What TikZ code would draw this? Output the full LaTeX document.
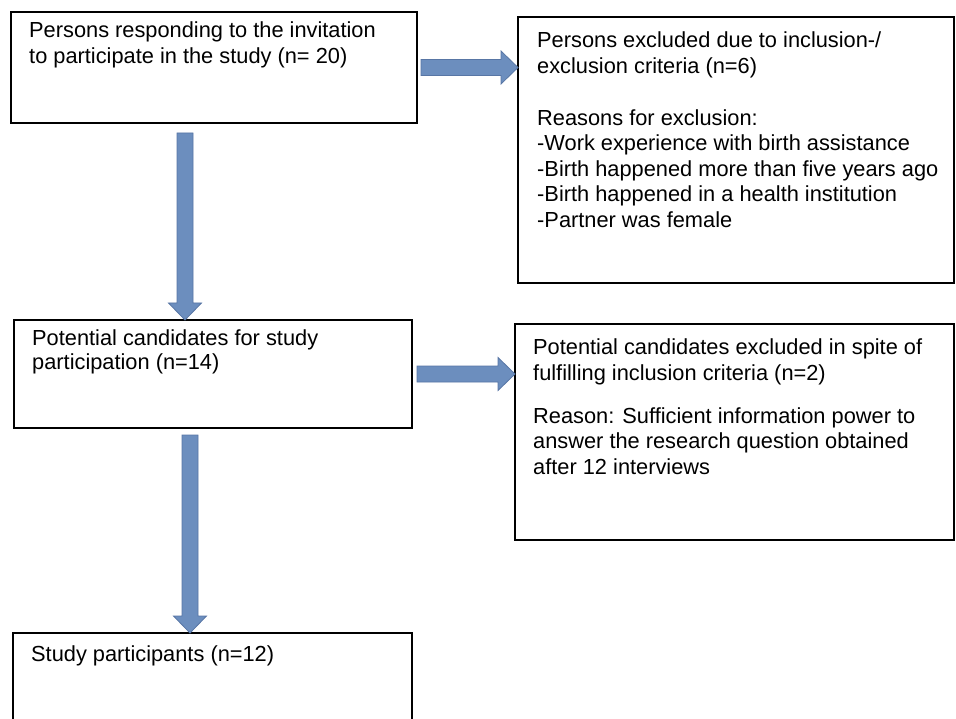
\documentclass[tikz,border=0pt]{standalone}
\usepackage{fontspec}
\setmainfont{Liberation Sans}
\usetikzlibrary{calc}
\definecolor{arrfill}{RGB}{108,142,190}
\definecolor{arrline}{RGB}{88,118,165}
\tikzset{
  box/.style={draw=black, line width=1.2pt, inner sep=0pt, outer sep=0pt, anchor=north west},
  txt/.style={inner sep=0pt, anchor=base west, font=\fontsize{21.8}{24}\selectfont},
  blockarrow/.style={fill=arrfill, draw=arrline, line width=0.8pt, line join=miter}
}
\newcommand\blockarr[2]{%
  \coordinate (bah) at ($(#2)!17pt!(#1)$);
  \filldraw[blockarrow] ($(#1)!8pt!90:(#2)$) -- ($(bah)!8pt!90:(#2)$) -- ($(bah)!16.5pt!90:(#2)$) -- (#2) -- ($(bah)!16.5pt!-90:(#2)$) -- ($(bah)!8pt!-90:(#2)$) -- ($(#1)!8pt!-90:(#2)$) -- cycle;}
\begin{document}
\begin{tikzpicture}[x=1pt,y=-1pt]
\useasboundingbox (0,0) rectangle (956,719);
\clip (0,0) rectangle (956,719);
\fill[white] (0,0) rectangle (956,719);
% boxes
\node[box, minimum width=406pt, minimum height=111pt] (b1) at (11,12) {};
\node[box, minimum width=436pt, minimum height=266pt] (b2) at (518,17) {};
\node[box, minimum width=398pt, minimum height=108pt] (b3) at (14,320) {};
\node[box, minimum width=439pt, minimum height=216pt] (b4) at (515,324) {};
\node[box, minimum width=399pt, minimum height=100pt] (b5) at (13,633) {};
% texts
\node[txt] (t1a) at (29,38) {Persons responding to the invitation};
\node[txt] (t1b) at (29,63.5) {to participate in the study (n= 20)};
\node[txt] (t2a) at (537,48) {Persons excluded due to inclusion-/};
\node[txt] (t2b) at (537,73.5) {exclusion criteria (n=6)};
\node[txt] (t2c) at (537,125.5) {Reasons for exclusion:};
\node[txt] (t2d) at (537,151) {-Work experience with birth assistance};
\node[txt] (t2e) at (537,176.5) {-Birth happened more than five years ago};
\node[txt] (t2f) at (537,202) {-Birth happened in a health institution};
\node[txt] (t2g) at (537,227.5) {-Partner was female};
\node[txt] (t3a) at (32,345) {Potential candidates for study};
\node[txt] (t3b) at (32,370) {participation (n=14)};
\node[txt] (t4a) at (533,355) {Potential candidates excluded in spite of};
\node[txt] (t4b) at (533,380.5) {fulfilling inclusion criteria (n=2)};
\node[txt] (t4c) at (533,423) {Reason: Sufficient information power to};
\node[txt] (t4d) at (533,448.5) {answer the research question obtained};
\node[txt] (t4e) at (533,474) {after 12 interviews};
\node[txt] (t5a) at (31,661) {Study participants (n=12)};
% arrows
\coordinate (a1s) at ($(b1.east)+(4,0)$);
\coordinate (a1e) at (b1.east -| b2.west);
\blockarr{a1s}{a1e}
\coordinate (a2s) at ($(b3.east)+(5,0)$);
\coordinate (a2e) at (b3.east -| b4.west);
\blockarr{a2s}{a2e}
\coordinate (v1s) at (185,133);
\coordinate (v1e) at (v1s |- b3.north);
\blockarr{v1s}{v1e}
\coordinate (v2s) at (190,435);
\coordinate (v2e) at (v2s |- b5.north);
\blockarr{v2s}{v2e}
\end{tikzpicture}
\end{document}
